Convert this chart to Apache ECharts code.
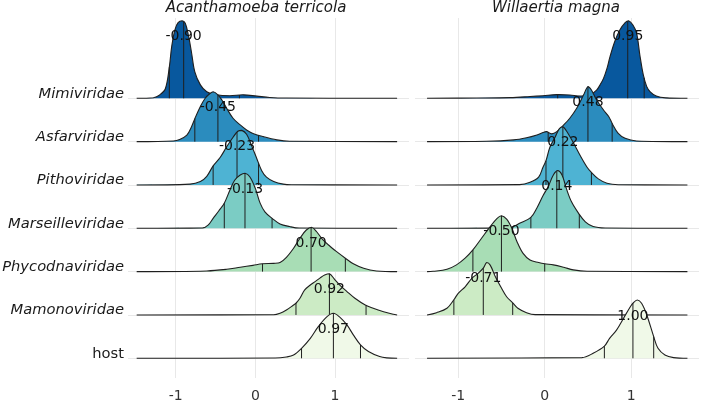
<!DOCTYPE html>
<html><head><meta charset="utf-8">
<script src="https://cdn.jsdelivr.net/npm/echarts@6/dist/echarts.min.js"></script>
<style>html,body{margin:0;padding:0;background:#fff}#c{width:701px;height:405px}</style>
</head><body><div id="c"></div>
<script>
// ---- data ----
const families = ['Mimiviridae','Asfarviridae','Pithoviridae','Marseilleviridae','Phycodnaviridae','Mamonoviridae','host'];
const panelTitles = ['Acanthamoeba terricola','Willaertia magna'];
const xTicks = [-1, 0, 1];
const acanRange = [-1.49, 1.78];
const willRange = [-1.36, 1.65];

// density curves: [x, scaled density] (1 = spacing between ridges)
const acanMimi = [[-1.28,0.014],[-1.20,0.08],[-1.13,0.22],[-1.08,0.72],[-1.05,1.2],[-1.01,1.58],[-0.97,1.745],[-0.92,1.79],[-0.88,1.73],[-0.84,1.45],[-0.80,1.04],[-0.76,0.61],[-0.69,0.31],[-0.61,0.15],[-0.49,0.08],[-0.32,0.06],[-0.15,0.08],[0.02,0.05],[0.18,0.02],[0.39,0.007]];
const acanAsfar = [[-1.03,0.016],[-0.95,0.05],[-0.86,0.15],[-0.80,0.35],[-0.76,0.53],[-0.69,0.81],[-0.63,1.0],[-0.57,1.11],[-0.53,1.15],[-0.47,1.08],[-0.42,0.96],[-0.36,0.77],[-0.28,0.54],[-0.19,0.385],[-0.11,0.27],[-0.03,0.19],[0.10,0.115],[0.27,0.04],[0.43,0.007]];
const acanPitho = [[-0.82,0.02],[-0.69,0.08],[-0.61,0.2],[-0.53,0.44],[-0.44,0.64],[-0.36,0.88],[-0.28,1.1],[-0.22,1.24],[-0.17,1.26],[-0.11,1.17],[-0.05,0.92],[0.02,0.6],[0.08,0.33],[0.14,0.18],[0.23,0.08],[0.35,0.02],[0.45,0.005]];
const acanMars = [[-0.66,0.01],[-0.59,0.08],[-0.53,0.23],[-0.46,0.4],[-0.39,0.58],[-0.32,0.88],[-0.26,1.11],[-0.19,1.23],[-0.13,1.27],[-0.07,1.19],[0.00,0.92],[0.06,0.58],[0.12,0.38],[0.21,0.23],[0.31,0.1],[0.43,0.04],[0.55,0.005]];
const acanPhyco = [[-0.61,0.016],[-0.36,0.053],[-0.19,0.1],[-0.03,0.145],[0.09,0.18],[0.23,0.19],[0.31,0.21],[0.39,0.33],[0.48,0.54],[0.56,0.77],[0.64,0.96],[0.71,1.02],[0.77,0.92],[0.85,0.73],[0.94,0.58],[1.02,0.46],[1.13,0.31],[1.23,0.18],[1.36,0.076],[1.52,0.016]];
const acanMamono = [[0.23,0.005],[0.31,0.04],[0.39,0.115],[0.48,0.23],[0.51,0.27],[0.56,0.385],[0.62,0.58],[0.69,0.69],[0.75,0.77],[0.81,0.85],[0.87,0.92],[0.93,0.95],[1.00,0.81],[1.06,0.69],[1.15,0.54],[1.25,0.385],[1.38,0.23],[1.48,0.155],[1.61,0.076],[1.73,0.016]];
const acanHost = [[0.25,0.005],[0.39,0.03],[0.48,0.076],[0.58,0.23],[0.69,0.46],[0.79,0.73],[0.90,0.96],[0.98,1.04],[1.06,0.95],[1.15,0.77],[1.23,0.54],[1.32,0.31],[1.42,0.155],[1.56,0.04],[1.65,0.01]];

const willMimi = [[-0.79,0.007],[-0.40,0.016],[-0.17,0.04],[-0.02,0.06],[0.14,0.085],[0.29,0.076],[0.41,0.053],[0.52,0.076],[0.60,0.19],[0.64,0.31],[0.68,0.46],[0.72,0.69],[0.755,0.96],[0.81,1.31],[0.87,1.58],[0.93,1.745],[0.97,1.79],[1.02,1.69],[1.063,1.5],[1.10,1.0],[1.14,0.54],[1.18,0.27],[1.22,0.15],[1.29,0.053],[1.40,0.01]];
const willAsfar = [[-0.67,0.007],[-0.36,0.04],[-0.21,0.09],[-0.09,0.155],[-0.02,0.21],[0.02,0.23],[0.08,0.18],[0.14,0.23],[0.22,0.385],[0.29,0.54],[0.37,0.77],[0.45,1.08],[0.50,1.27],[0.54,1.19],[0.60,0.96],[0.68,0.73],[0.74,0.58],[0.78,0.42],[0.85,0.19],[0.93,0.076],[1.06,0.016]];
const willPitho = [[-0.29,0.007],[-0.17,0.06],[-0.07,0.18],[-0.02,0.41],[0.015,0.56],[0.06,0.87],[0.12,1.1],[0.17,1.3],[0.21,1.345],[0.25,1.25],[0.33,0.98],[0.41,0.68],[0.49,0.41],[0.54,0.29],[0.62,0.14],[0.72,0.04],[0.85,0.005]];
const willMars = [[-0.45,0.01],[-0.36,0.04],[-0.29,0.115],[-0.16,0.25],[-0.09,0.47],[-0.02,0.75],[0.04,0.96],[0.10,1.23],[0.15,1.33],[0.20,1.23],[0.25,0.92],[0.31,0.61],[0.39,0.35],[0.47,0.15],[0.56,0.04],[0.70,0.005]];
const willPhyco = [[-1.29,0.007],[-1.13,0.053],[-1.02,0.155],[-0.92,0.31],[-0.83,0.5],[-0.73,0.77],[-0.63,1.04],[-0.55,1.23],[-0.50,1.29],[-0.44,1.21],[-0.38,1.0],[-0.32,0.69],[-0.25,0.42],[-0.17,0.27],[-0.07,0.21],[0.0,0.18],[0.10,0.155],[0.22,0.1],[0.33,0.04],[0.49,0.007]];
const willMamono = [[-1.25,0.053],[-1.13,0.155],[-1.05,0.35],[-1.00,0.5],[-0.92,0.65],[-0.84,0.85],[-0.77,0.96],[-0.71,1.08],[-0.67,1.21],[-0.63,1.15],[-0.57,0.88],[-0.50,0.62],[-0.44,0.42],[-0.37,0.28],[-0.31,0.155],[-0.21,0.053],[-0.11,0.007]];
const willHost = [[0.43,0.016],[0.56,0.115],[0.69,0.28],[0.75,0.46],[0.83,0.65],[0.91,0.92],[0.99,1.19],[1.02,1.27],[1.07,1.345],[1.12,1.27],[1.18,1.0],[1.26,0.5],[1.31,0.23],[1.39,0.076],[1.49,0.016]];

// quantile lines (lower, median, upper) and median labels
const acanLow = [-0.20, -0.76, -0.53, -0.39, 0.09, 0.51, 0.58];
const acanMed = [-0.90, -0.47, -0.23, -0.13, 0.70, 0.93, 0.98];
const acanHigh = [-1.08, 0.04, 0.04, 0.21, 1.13, 1.39, 1.32];
const acanLabels = ['-0.90','-0.45','-0.23','-0.13','0.70','0.92','0.97'];
const willLow = [0.15, 0.04, 0.015, -0.16, -0.83, -1.05, 0.69];
const willMed = [0.96, 0.50, 0.21, 0.14, -0.50, -0.71, 1.02];
const willHigh = [1.15, 0.78, 0.54, 0.40, 0.0, -0.37, 1.26];
const willLabels = ['0.95','0.48','0.22','0.14','-0.50','-0.71','1.00'];

// ---- drawing ----
const fillColors = ['#08589e','#2b8cbe','#4eb3d3','#7bccc4','#a8ddb5','#ccebc5','#f0f9e8'];
const FONT = 'DejaVu Sans';
const stroke = '#1f1f1f';
const acanRidges = [acanMimi, acanAsfar, acanPitho, acanMars, acanPhyco, acanMamono, acanHost];
const willRidges = [willMimi, willAsfar, willPitho, willMars, willPhyco, willMamono, willHost];

function interp(pts, x) {
  if (x <= pts[0][0] || x >= pts[pts.length - 1][0]) return 0;
  for (let k = 1; k < pts.length; k++) {
    if (x <= pts[k][0]) {
      const a = pts[k - 1], b = pts[k];
      return a[1] + (b[1] - a[1]) * (x - a[0]) / (b[0] - a[0]);
    }
  }
  return 0;
}

function makeRender(ridges, lows, meds, highs, labels, range) {
  return function (params, api) {
    const i = api.value(1);
    const base = families.length - 1 - i;
    const pts = [[range[0], 0]].concat(ridges[i], [[range[1], 0]]);
    const line = pts.map(p => api.coord([p[0], base + p[1]]));
    let minX = Infinity, minY = Infinity, maxX = -Infinity, maxY = -Infinity;
    line.forEach(p => { minX = Math.min(minX, p[0]); maxX = Math.max(maxX, p[0]); minY = Math.min(minY, p[1]); maxY = Math.max(maxY, p[1]); });
    const cons = [[minX, minY], [maxX, maxY]];
    const children = [];
    children.push({ type: 'polygon', shape: { points: line, smooth: 0.35, smoothConstraint: cons }, style: { fill: fillColors[i], stroke: null }, z2: i * 10 });
    [lows[i], meds[i], highs[i]].forEach(q => {
      const h = interp(pts, q);
      const p0 = api.coord([q, base]);
      const p1 = api.coord([q, base + h]);
      children.push({ type: 'line', shape: { x1: p0[0], y1: p0[1], x2: p1[0], y2: p1[1] }, style: { stroke: stroke, lineWidth: 1 }, z2: i * 10 + 1 });
    });
    children.push({ type: 'polyline', shape: { points: line, smooth: 0.35, smoothConstraint: cons }, style: { fill: null, stroke: stroke, lineWidth: 1.1 }, z2: i * 10 + 2 });
    let peak = 0;
    ridges[i].forEach(p => { peak = Math.max(peak, p[1]); });
    const lp = api.coord([meds[i], base + peak]);
    children.push({ type: 'text', x: lp[0], y: lp[1] + 16, style: { text: labels[i], align: 'center', verticalAlign: 'middle', fontSize: 14, fontFamily: FONT, fill: '#111' }, z2: 1000 });
    return { type: 'group', children: children };
  };
}

const yVals = [0, 1, 2, 3, 4, 5, 6];
function yAxisFor(gi, showLabels) {
  return {
    type: 'value', gridIndex: gi, min: -0.455, max: 7.853,
    axisLine: { show: false },
    axisTick: { show: false, customValues: yVals },
    axisLabel: {
      show: showLabels, customValues: yVals, margin: 4, padding: [0, 0, 9, 0],
      formatter: v => { const n = families[6 - v]; return n === 'host' ? '{n|' + n + '}' : '{i|' + n + '}'; },
      rich: {
        i: { fontStyle: 'italic', fontSize: 14.7, fontFamily: FONT, color: '#1a1a1a' },
        n: { fontSize: 14.7, fontFamily: FONT, color: '#1a1a1a' }
      }
    },
    splitLine: { show: true, lineStyle: { color: '#e8e8e8', width: 1 } }
  };
}
function xAxisFor(gi, min, max) {
  return {
    type: 'value', gridIndex: gi, min: min, max: max,
    axisLine: { show: false },
    axisTick: { show: false, customValues: xTicks },
    axisLabel: { customValues: xTicks, margin: 11, fontSize: 14, fontFamily: FONT, color: '#333' },
    splitLine: { show: true, lineStyle: { color: '#e8e8e8', width: 1 } }
  };
}

const chart = echarts.init(document.getElementById('c'), null, { renderer: 'canvas' });
chart.setOption({
  animation: false,
  backgroundColor: '#ffffff',
  grid: [
    { left: 128, top: 18, width: 281, height: 360, outerBoundsMode: 'none' },
    { left: 415, top: 18, width: 284, height: 360, outerBoundsMode: 'none' }
  ],
  xAxis: [xAxisFor(0, -1.5989, 1.9291), xAxisFor(1, -1.4994, 1.7838)],
  yAxis: [yAxisFor(0, true), yAxisFor(1, false)],
  graphic: [
    { type: 'text', x: 256, y: 8, style: { text: panelTitles[0], align: 'center', verticalAlign: 'middle', fontSize: 15, fontStyle: 'italic', fontFamily: FONT, fill: '#1a1a1a' } },
    { type: 'text', x: 556, y: 8, style: { text: panelTitles[1], align: 'center', verticalAlign: 'middle', fontSize: 15, fontStyle: 'italic', fontFamily: FONT, fill: '#1a1a1a' } }
  ],
  series: [
    { type: 'custom', xAxisIndex: 0, yAxisIndex: 0, silent: true, data: families.map((f, i) => [0, i]),
      renderItem: makeRender(acanRidges, acanLow, acanMed, acanHigh, acanLabels, acanRange) },
    { type: 'custom', xAxisIndex: 1, yAxisIndex: 1, silent: true, data: families.map((f, i) => [0, i]),
      renderItem: makeRender(willRidges, willLow, willMed, willHigh, willLabels, willRange) }
  ]
});
</script>
</body></html>
